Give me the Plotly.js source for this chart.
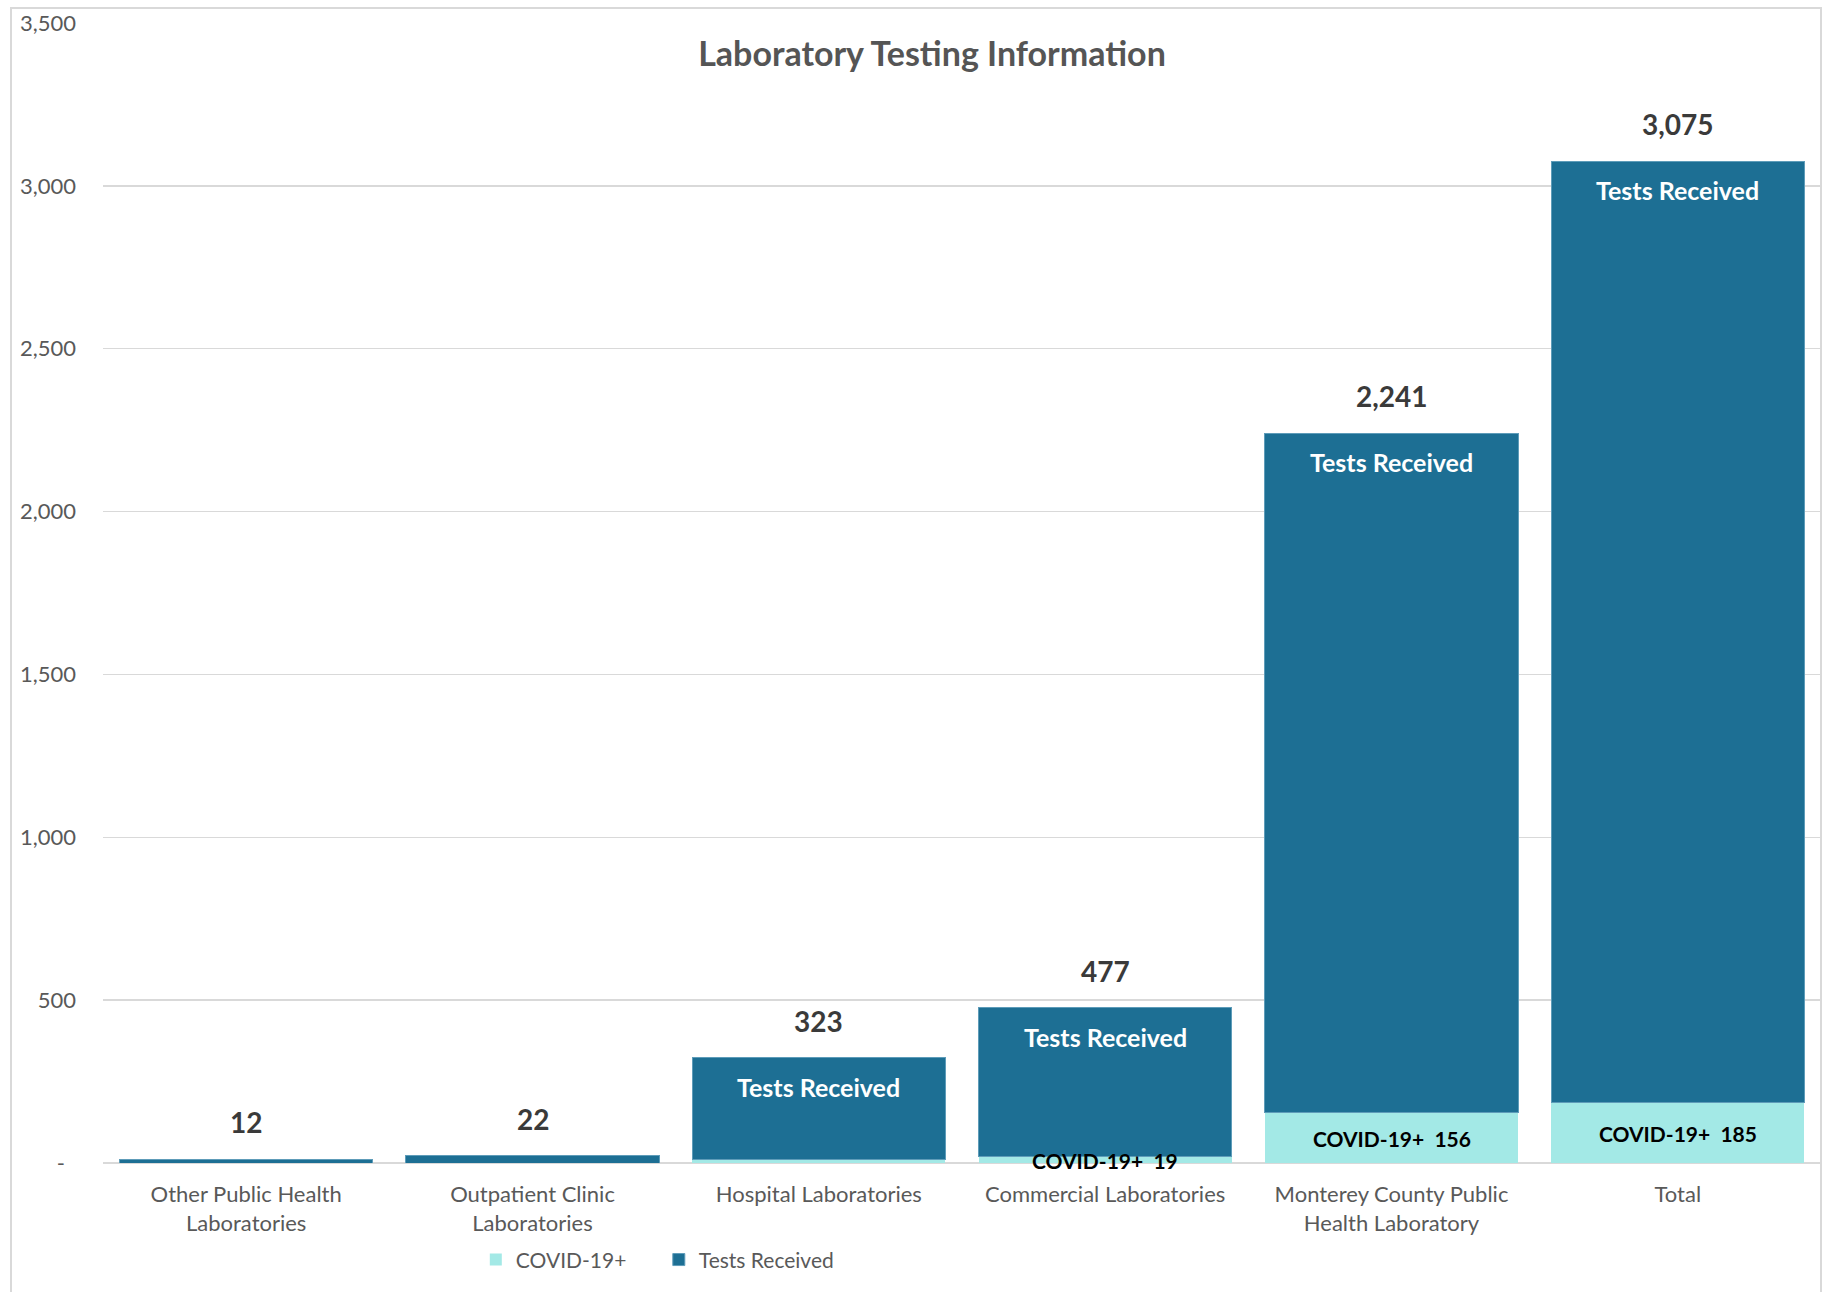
<!DOCTYPE html>
<html>
<head>
<meta charset="utf-8">
<script src="https://cdn.plot.ly/plotly-3.0.1.min.js"></script>
<style>
  html, body { margin: 0; padding: 0; background: #ffffff; }
  #chart { width: 1830px; height: 1292px; }
</style>
</head>
<body>
<div id="chart"></div>
<script>
// ---- Data ----
const categories = [
  "Other Public Health<br>Laboratories",
  "Outpatient Clinic<br>Laboratories",
  "Hospital Laboratories",
  "Commercial Laboratories",
  "Monterey County Public<br>Health Laboratory",
  "Total"
];
const totalTests = [12, 22, 323, 477, 2241, 3075];
const covidPositive = [0, 0, 10, 19, 156, 185];
const showTestsLabel = [false, false, true, true, true, true];
const showCovidLabel = [false, false, false, true, true, true];
const yTickValues = [0, 500, 1000, 1500, 2000, 2500, 3000, 3500];
const yTickLabels = ["-\u2002", "500", "1,000", "1,500", "2,000", "2,500", "3,000", "3,500"];

const seriesNames = { covid: "COVID-19+", tests: "Tests Received" };
const colors = { covid: "#A3E9E6", tests: "#1D6F94" };

// remaining (non-positive) part of the stack
const testsSegment = totalTests.map((t, i) => t - covidPositive[i]);

const FONT = "Lato, 'Open Sans', sans-serif";
const fmt = v => v.toLocaleString("en-US");

const traces = [
  {
    type: "bar",
    name: seriesNames.covid,
    x: categories,
    y: covidPositive,
    marker: { color: colors.covid, line: { width: 0 } },
    hoverinfo: "skip"
  },
  {
    type: "bar",
    name: seriesNames.tests,
    x: categories,
    y: testsSegment,
    marker: { color: colors.tests, line: { width: 1, color: "#5E9CB9" } },
    hoverinfo: "skip"
  }
];

const annotations = [];
categories.forEach((c, i) => {
  // total above bar
  annotations.push({
    x: c, y: totalTests[i], xref: "x", yref: "y",
    text: "<b>" + fmt(totalTests[i]) + "</b>",
    showarrow: false, yanchor: "middle", yshift: 37,
    font: { family: FONT, size: 28, color: "#3A3A3A" }
  });
  if (showTestsLabel[i]) {
    annotations.push({
      x: c, y: totalTests[i], xref: "x", yref: "y",
      text: "<b>" + seriesNames.tests + "</b>",
      showarrow: false, yanchor: "middle", yshift: -29,
      font: { family: FONT, size: 25, color: "#ffffff" }
    });
  }
  if (showCovidLabel[i]) {
    annotations.push({
      x: c, y: covidPositive[i] / 2, xref: "x", yref: "y",
      text: "<b>" + seriesNames.covid + "\u00a0\u00a0" + fmt(covidPositive[i]) + "</b>",
      showarrow: false, yanchor: "middle", yshift: -1,
      font: { family: FONT, size: 21, color: "#000000" }
    });
  }
});

const layout = {
  width: 1830,
  height: 1292,
  paper_bgcolor: "#ffffff",
  plot_bgcolor: "#ffffff",
  margin: { l: 103, r: 9, t: 23, b: 129, pad: 0 },
  barmode: "stack",
  bargap: 0.116,
  title: {
    text: "<b>Laboratory Testing Information</b>",
    font: { family: FONT, size: 34, color: "#555555" },
    x: 932 / 1830, xanchor: "center", xref: "container",
    y: 1 - 54 / 1292, yanchor: "middle", yref: "container"
  },
  xaxis: {
    type: "category",
    showgrid: false,
    showline: false,
    ticks: "",
    ticklabelstandoff: 16,
    tickfont: { family: FONT, size: 22, color: "#595959" },
    fixedrange: true
  },
  yaxis: {
    range: [0, 3500],
    tickvals: yTickValues,
    ticktext: yTickLabels,
    showgrid: true,
    gridcolor: "#D9D9D9",
    gridwidth: 1.5,
    zeroline: true,
    zerolinecolor: "#D9D9D9",
    zerolinewidth: 2,
    showline: false,
    ticks: "",
    ticklabelstandoff: 26,
    tickfont: { family: FONT, size: 22, color: "#595959" },
    fixedrange: true
  },
  showlegend: true,
  legend: {
    orientation: "h",
    traceorder: "normal",
    x: 0.217, xanchor: "left",
    y: -0.085, yanchor: "middle",
    entrywidth: 138, entrywidthmode: "pixels",
    font: { family: FONT, size: 21, color: "#595959" },
    itemclick: false, itemdoubleclick: false,
    bgcolor: "rgba(0,0,0,0)"
  },
  annotations: annotations,
  shapes: [
    {
      type: "rect", xref: "paper", yref: "paper",
      x0: (11 - 103) / 1718, x1: (1821 - 103) / 1718,
      y0: -0.2, y1: (1163 - 8) / 1140,
      line: { color: "#D9D9D9", width: 2 },
      fillcolor: "rgba(0,0,0,0)",
      layer: "below"
    }
  ]
};

Plotly.newPlot("chart", traces, layout, { displayModeBar: false, staticPlot: true });
</script>
</body>
</html>
